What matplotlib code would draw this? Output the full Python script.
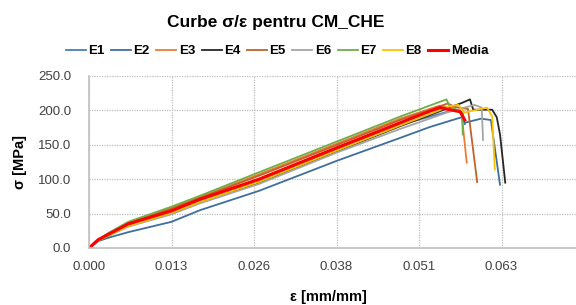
import matplotlib
matplotlib.use('Agg')
import matplotlib.pyplot as plt

plt.rcParams['font.family'] = ['Liberation Sans', 'DejaVu Sans']

# strain [mm/mm] / stress [MPa]
eps_E1 = [0, 0.0014, 0.003, 0.006, 0.0126, 0.017, 0.026, 0.038, 0.0476, 0.0560, 0.0572, 0.0575]
sig_E1 = [0, 11, 19, 33, 52, 68, 97, 143, 179, 201, 196, 180]
eps_E2 = [0, 0.0014, 0.003, 0.006, 0.0126, 0.017, 0.026, 0.038, 0.0476, 0.0522, 0.0570, 0.0575, 0.0600, 0.0615, 0.0629]
sig_E2 = [0, 10, 15, 23, 38, 55, 83, 127, 160, 176, 190, 182, 188, 186, 92]
eps_E3 = [0, 0.0014, 0.003, 0.006, 0.0126, 0.017, 0.026, 0.038, 0.0476, 0.0537, 0.0549, 0.0570, 0.0578]
sig_E3 = [0, 12, 21, 37, 58, 74, 107, 152, 188, 207, 204, 198, 124]
eps_E4 = [0, 0.0014, 0.003, 0.006, 0.0126, 0.017, 0.026, 0.038, 0.0476, 0.0571, 0.0583, 0.0588, 0.0617, 0.0624, 0.0629, 0.0637]
sig_E4 = [0, 11, 18, 32, 50, 66, 95, 141, 177, 211, 216, 201, 201, 190, 165, 95]
eps_E5 = [0, 0.0014, 0.003, 0.006, 0.0126, 0.017, 0.026, 0.038, 0.0476, 0.0549, 0.0560, 0.0580, 0.0594]
sig_E5 = [0, 12, 21, 36, 57, 73, 105, 150, 186, 210, 205, 202, 96]
eps_E6 = [0, 0.0014, 0.003, 0.006, 0.0126, 0.017, 0.026, 0.038, 0.0476, 0.0548, 0.0590, 0.0601, 0.0603]
sig_E6 = [0, 11, 18, 31, 49, 65, 93, 139, 173, 197, 208, 204, 157]
eps_E7 = [0, 0.0014, 0.003, 0.006, 0.0126, 0.017, 0.026, 0.038, 0.0476, 0.0547, 0.0552, 0.0571, 0.0572]
sig_E7 = [0, 12, 22, 38, 60, 76, 110, 155, 191, 216, 206, 197, 165]
eps_E8 = [0, 0.0014, 0.003, 0.006, 0.0126, 0.017, 0.026, 0.038, 0.0476, 0.0552, 0.0565, 0.0575, 0.0609, 0.0617, 0.0621]
sig_E8 = [0, 11, 18, 32, 51, 67, 96, 142, 178, 206, 208, 197, 204, 191, 114]
eps_med = [0, 0.0014, 0.003, 0.006, 0.0126, 0.017, 0.026, 0.038, 0.0476, 0.0522, 0.0537, 0.0552, 0.0568, 0.0575]
sig_med = [0, 12, 20, 35, 54, 71, 100, 146, 182, 199, 204, 201, 198, 186]

x_ticks = [0, 0.012625, 0.02525, 0.037875, 0.0505, 0.063125]
x_labels = ['0.000', '0.013', '0.026', '0.038', '0.051', '0.063']
y_ticks = [0, 50, 100, 150, 200, 250]

series = [
    ('E1', eps_E1, sig_E1, '#4A7EBB', 1.3),
    ('E2', eps_E2, sig_E2, '#3E6E9E', 1.3),
    ('E3', eps_E3, sig_E3, '#ED7D31', 1.3),
    ('E4', eps_E4, sig_E4, '#262626', 1.3),
    ('E5', eps_E5, sig_E5, '#C0622A', 1.3),
    ('E6', eps_E6, sig_E6, '#A5A5A5', 1.3),
    ('E7', eps_E7, sig_E7, '#70AD47', 1.3),
    ('E8', eps_E8, sig_E8, '#FFC000', 1.3),
    ('Media', eps_med, sig_med, '#FF0000', 2.2),
]

fig = plt.figure(figsize=(5.76, 3.05), dpi=100)
ax = fig.add_axes([89/576, 1-248/305, 495/576, 172/305])

for name, e, s, c, lw in series:
    ax.plot(e, s, color=c, lw=lw, label=name)

ax.set_xlim(0, 0.07575)
ax.set_ylim(0, 250)
ax.set_xticks(x_ticks)
ax.set_xticklabels(x_labels)
ax.set_yticks(y_ticks)
ax.set_yticklabels(['%.1f' % v for v in y_ticks])
ax.grid(True, color='#BFBFBF', ls=(0, (1, 1)), lw=0.9)
ax.tick_params(length=0, labelsize=9.5, labelcolor='#404040')
ax.tick_params(axis='x', pad=9)
ax.tick_params(axis='y', pad=13)
for sp in ['top', 'right']:
    ax.spines[sp].set_visible(False)
for sp in ['left', 'bottom']:
    ax.spines[sp].set_color('#BFBFBF')
    ax.spines[sp].set_linewidth(1.2)

ax.set_ylabel('σ [MPa]', fontsize=10.5, fontweight='bold', labelpad=8)
fig.text(328/576, 1-297/305, 'ε [mm/mm]', fontsize=10.5, fontweight='bold', ha='center', va='center')
fig.text(276/576, 1-23/305, 'Curbe σ/ε pentru CM_CHE', fontsize=12.5, fontweight='bold', ha='center', va='center')

fig.legend(loc='center', bbox_to_anchor=(277/576, 1-51/305), ncol=9, frameon=False,
           handlelength=1.5, handletextpad=0.2, columnspacing=0.5,
           prop={'weight': 'bold', 'size': 9.5})

fig.savefig('out.png', dpi=100)
